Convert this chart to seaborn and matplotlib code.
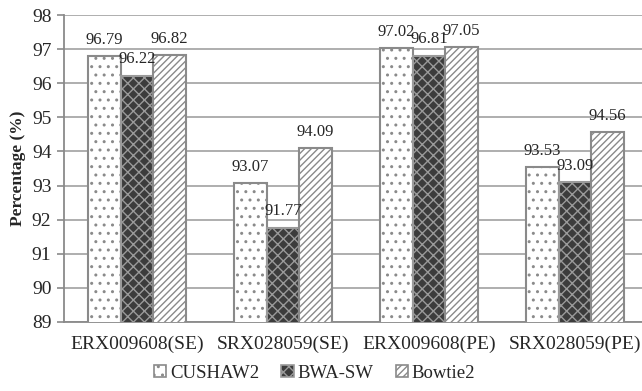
import pandas as pd
import matplotlib.pyplot as plt
import seaborn as sns

# Values
datasets = ["ERX009608(SE)", "SRX028059(SE)", "ERX009608(PE)", "SRX028059(PE)"]
aligners = ["CUSHAW2", "BWA-SW", "Bowtie2"]
cushaw2 = [96.79, 93.07, 97.02, 93.53]
bwa_sw = [96.22, 91.77, 96.81, 93.09]
bowtie2 = [96.82, 94.09, 97.05, 94.56]

df = pd.DataFrame({
    "dataset": datasets * 3,
    "aligner": [a for a in aligners for _ in datasets],
    "pct": cushaw2 + bwa_sw + bowtie2,
})

sns.set_style("white")
plt.rcParams["font.family"] = ["Liberation Serif", "DejaVu Serif"]
plt.rcParams["hatch.linewidth"] = 1.0

fig = plt.figure(figsize=(6.42, 3.91), dpi=100)
ax = fig.add_axes([64 / 642, 1 - 322 / 391, 584 / 642, (322 - 15) / 391])

face = {"CUSHAW2": "white", "BWA-SW": "#3c3c3c", "Bowtie2": "white"}
hatch = {"CUSHAW2": "..", "BWA-SW": "xxx", "Bowtie2": "/////"}
edge = {"CUSHAW2": "#8a8a8a", "BWA-SW": "#9a9a9a", "Bowtie2": "#8a8a8a"}

sns.barplot(data=df, x="dataset", y="pct", hue="aligner", order=datasets,
            hue_order=aligners, width=0.67, palette=["white"] * 3,
            ax=ax, zorder=3, legend=False)

for cont, name in zip(ax.containers, aligners):
    for bar in cont:
        bar.set_facecolor(face[name])
        bar.set_edgecolor(edge[name])
        bar.set_hatch(hatch[name])
        bar.set_linewidth(1.5)
    ax.bar_label(cont, fmt="%.2f", padding=6, fontsize=12, zorder=4)

ax.set_ylim(89, 98)
ax.set_yticks(range(89, 99))
ax.set_xlim(-0.5, 3.5)
ax.grid(axis="y", color="#a8a8a8", linewidth=1.3, zorder=0)
ax.set_axisbelow(True)

for s in ["top", "right"]:
    ax.spines[s].set_visible(False)
for s in ["left", "bottom"]:
    ax.spines[s].set_color("#8a8a8a")
    ax.spines[s].set_linewidth(1.3)

ax.set_xticks([-0.5, 0.5, 1.5, 2.5, 3.5], minor=True)
ax.tick_params(axis="x", which="major", length=0, labelsize=14, pad=10)
ax.tick_params(axis="x", which="minor", length=5, color="#8a8a8a", width=1.2)
ax.tick_params(axis="y", length=5, color="#8a8a8a", width=1.2, labelsize=14,
               left=True, pad=4)

ax.set_xlabel("")
ax.set_ylabel("Percentage (%)", fontsize=12.5, fontweight="bold", labelpad=4)

handles = [plt.Rectangle((0, 0), 1, 1, facecolor=face[a], edgecolor=edge[a],
                         hatch=hatch[a], linewidth=1.2) for a in aligners]
fig.legend(handles, aligners, loc="center", bbox_to_anchor=(0.49, 1 - 373 / 391),
           ncol=3, frameon=False, fontsize=13.5, handlelength=0.65,
           handleheight=0.65, handletextpad=0.2, columnspacing=1.2)

fig.savefig("out.png", dpi=100)
